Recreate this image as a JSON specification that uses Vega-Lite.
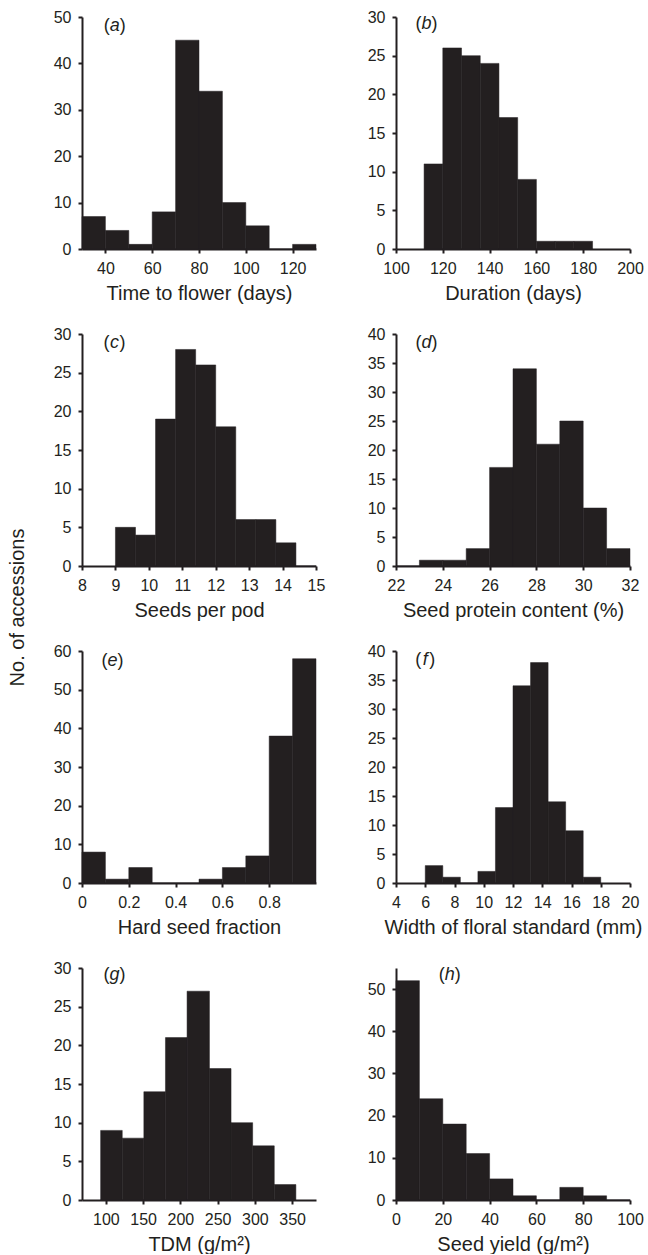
{
  "$schema": "https://vega.github.io/schema/vega-lite/v6.json",
  "padding": {"left": 8, "top": 9, "right": 0, "bottom": 0},
  "title": {"text": "No. of accessions", "orient": "left", "anchor": "middle", "frame": "bounds", "fontSize": 20, "fontWeight": "normal", "font": "Liberation Sans", "color": "#231f20", "offset": 25, "dx": 24},
  "datasets": {
    "hist": [
      {"panel": "a", "lo": 30, "hi": 40, "n": 7},
      {"panel": "a", "lo": 40, "hi": 50, "n": 4},
      {"panel": "a", "lo": 50, "hi": 60, "n": 1},
      {"panel": "a", "lo": 60, "hi": 70, "n": 8},
      {"panel": "a", "lo": 70, "hi": 80, "n": 45},
      {"panel": "a", "lo": 80, "hi": 90, "n": 34},
      {"panel": "a", "lo": 90, "hi": 100, "n": 10},
      {"panel": "a", "lo": 100, "hi": 110, "n": 5},
      {"panel": "a", "lo": 110, "hi": 120, "n": 0},
      {"panel": "a", "lo": 120, "hi": 130, "n": 1},
      {"panel": "b", "lo": 112, "hi": 120, "n": 11},
      {"panel": "b", "lo": 120, "hi": 128, "n": 26},
      {"panel": "b", "lo": 128, "hi": 136, "n": 25},
      {"panel": "b", "lo": 136, "hi": 144, "n": 24},
      {"panel": "b", "lo": 144, "hi": 152, "n": 17},
      {"panel": "b", "lo": 152, "hi": 160, "n": 9},
      {"panel": "b", "lo": 160, "hi": 168, "n": 1},
      {"panel": "b", "lo": 168, "hi": 176, "n": 1},
      {"panel": "b", "lo": 176, "hi": 184, "n": 1},
      {"panel": "c", "lo": 9.0, "hi": 9.6, "n": 5},
      {"panel": "c", "lo": 9.6, "hi": 10.2, "n": 4},
      {"panel": "c", "lo": 10.2, "hi": 10.8, "n": 19},
      {"panel": "c", "lo": 10.8, "hi": 11.4, "n": 28},
      {"panel": "c", "lo": 11.4, "hi": 12.0, "n": 26},
      {"panel": "c", "lo": 12.0, "hi": 12.6, "n": 18},
      {"panel": "c", "lo": 12.6, "hi": 13.2, "n": 6},
      {"panel": "c", "lo": 13.2, "hi": 13.8, "n": 6},
      {"panel": "c", "lo": 13.8, "hi": 14.4, "n": 3},
      {"panel": "c", "lo": 14.4, "hi": 15.0, "n": 0},
      {"panel": "d", "lo": 22, "hi": 23, "n": 0},
      {"panel": "d", "lo": 23, "hi": 24, "n": 1},
      {"panel": "d", "lo": 24, "hi": 25, "n": 1},
      {"panel": "d", "lo": 25, "hi": 26, "n": 3},
      {"panel": "d", "lo": 26, "hi": 27, "n": 17},
      {"panel": "d", "lo": 27, "hi": 28, "n": 34},
      {"panel": "d", "lo": 28, "hi": 29, "n": 21},
      {"panel": "d", "lo": 29, "hi": 30, "n": 25},
      {"panel": "d", "lo": 30, "hi": 31, "n": 10},
      {"panel": "d", "lo": 31, "hi": 32, "n": 3},
      {"panel": "e", "lo": 0.0, "hi": 0.1, "n": 8},
      {"panel": "e", "lo": 0.1, "hi": 0.2, "n": 1},
      {"panel": "e", "lo": 0.2, "hi": 0.3, "n": 4},
      {"panel": "e", "lo": 0.3, "hi": 0.4, "n": 0},
      {"panel": "e", "lo": 0.4, "hi": 0.5, "n": 0},
      {"panel": "e", "lo": 0.5, "hi": 0.6, "n": 1},
      {"panel": "e", "lo": 0.6, "hi": 0.7, "n": 4},
      {"panel": "e", "lo": 0.7, "hi": 0.8, "n": 7},
      {"panel": "e", "lo": 0.8, "hi": 0.9, "n": 38},
      {"panel": "e", "lo": 0.9, "hi": 1.0, "n": 58},
      {"panel": "f", "lo": 6.0, "hi": 7.2, "n": 3},
      {"panel": "f", "lo": 7.2, "hi": 8.4, "n": 1},
      {"panel": "f", "lo": 8.4, "hi": 9.6, "n": 0},
      {"panel": "f", "lo": 9.6, "hi": 10.8, "n": 2},
      {"panel": "f", "lo": 10.8, "hi": 12.0, "n": 13},
      {"panel": "f", "lo": 12.0, "hi": 13.2, "n": 34},
      {"panel": "f", "lo": 13.2, "hi": 14.4, "n": 38},
      {"panel": "f", "lo": 14.4, "hi": 15.6, "n": 14},
      {"panel": "f", "lo": 15.6, "hi": 16.8, "n": 9},
      {"panel": "f", "lo": 16.8, "hi": 18.0, "n": 1},
      {"panel": "g", "lo": 93, "hi": 122, "n": 9},
      {"panel": "g", "lo": 122, "hi": 151, "n": 8},
      {"panel": "g", "lo": 151, "hi": 180, "n": 14},
      {"panel": "g", "lo": 180, "hi": 209, "n": 21},
      {"panel": "g", "lo": 209, "hi": 239, "n": 27},
      {"panel": "g", "lo": 239, "hi": 268, "n": 17},
      {"panel": "g", "lo": 268, "hi": 297, "n": 10},
      {"panel": "g", "lo": 297, "hi": 326, "n": 7},
      {"panel": "g", "lo": 326, "hi": 355, "n": 2},
      {"panel": "h", "lo": 0, "hi": 10, "n": 52},
      {"panel": "h", "lo": 10, "hi": 20, "n": 24},
      {"panel": "h", "lo": 20, "hi": 30, "n": 18},
      {"panel": "h", "lo": 30, "hi": 40, "n": 11},
      {"panel": "h", "lo": 40, "hi": 50, "n": 5},
      {"panel": "h", "lo": 50, "hi": 60, "n": 1},
      {"panel": "h", "lo": 60, "hi": 70, "n": 0},
      {"panel": "h", "lo": 70, "hi": 80, "n": 3},
      {"panel": "h", "lo": 80, "hi": 90, "n": 1},
      {"panel": "h", "lo": 90, "hi": 100, "n": 0}
    ]
  },
  "columns": 2,
  "bounds": "flush",
  "spacing": {"row": 85, "column": 80},
  "concat": [
    {
      "width": 234, "height": 232,
      "resolve": {"axis": {"x": "independent", "y": "independent"}},
      "layer": [
        {"data": {"name": "hist"}, "transform": [{"filter": "datum.panel === 'a'"}],
         "mark": {"type": "bar", "color": "#231f20", "stroke": "#231f20", "strokeWidth": 0.5},
         "encoding": {
           "x": {"field": "lo", "type": "quantitative", "scale": {"domain": [30, 130], "nice": false, "zero": false}, "axis": {"title": "Time to flower (days)", "values": [40, 60, 80, 100, 120]}},
           "x2": {"field": "hi"},
           "y": {"field": "n", "type": "quantitative", "scale": {"domain": [0, 50], "nice": false}, "axis": {"title": null, "values": [0, 10, 20, 30, 40, 50]}},
           "y2": {"datum": 0}
         }},
        {"data": {"values": [{}]}, "mark": {"type": "text", "text": "(", "align": "right", "dx": -5, "baseline": "middle"}, "encoding": {"x": {"datum": 44, "axis": null}, "y": {"datum": 48, "axis": null}}},
        {"data": {"values": [{}]}, "mark": {"type": "text", "text": "a", "align": "center", "fontStyle": "italic", "baseline": "middle"}, "encoding": {"x": {"datum": 44, "axis": null}, "y": {"datum": 48, "axis": null}}},
        {"data": {"values": [{}]}, "mark": {"type": "text", "text": ")", "align": "left", "dx": 5, "baseline": "middle"}, "encoding": {"x": {"datum": 44, "axis": null}, "y": {"datum": 48, "axis": null}}}
      ]
    },
    {
      "width": 234, "height": 232,
      "resolve": {"axis": {"x": "independent", "y": "independent"}},
      "layer": [
        {"data": {"name": "hist"}, "transform": [{"filter": "datum.panel === 'b'"}],
         "mark": {"type": "bar", "color": "#231f20", "stroke": "#231f20", "strokeWidth": 0.5},
         "encoding": {
           "x": {"field": "lo", "type": "quantitative", "scale": {"domain": [100, 200], "nice": false, "zero": false}, "axis": {"title": "Duration (days)", "values": [100, 120, 140, 160, 180, 200]}},
           "x2": {"field": "hi"},
           "y": {"field": "n", "type": "quantitative", "scale": {"domain": [0, 30], "nice": false}, "axis": {"title": null, "values": [0, 5, 10, 15, 20, 25, 30]}},
           "y2": {"datum": 0}
         }},
        {"data": {"values": [{}]}, "mark": {"type": "text", "text": "(", "align": "right", "dx": -5, "baseline": "middle"}, "encoding": {"x": {"datum": 113, "axis": null}, "y": {"datum": 29.1, "axis": null}}},
        {"data": {"values": [{}]}, "mark": {"type": "text", "text": "b", "align": "center", "fontStyle": "italic", "baseline": "middle"}, "encoding": {"x": {"datum": 113, "axis": null}, "y": {"datum": 29.1, "axis": null}}},
        {"data": {"values": [{}]}, "mark": {"type": "text", "text": ")", "align": "left", "dx": 5, "baseline": "middle"}, "encoding": {"x": {"datum": 113, "axis": null}, "y": {"datum": 29.1, "axis": null}}}
      ]
    },
    {
      "width": 234, "height": 232,
      "resolve": {"axis": {"x": "independent", "y": "independent"}},
      "layer": [
        {"data": {"name": "hist"}, "transform": [{"filter": "datum.panel === 'c'"}],
         "mark": {"type": "bar", "color": "#231f20", "stroke": "#231f20", "strokeWidth": 0.5},
         "encoding": {
           "x": {"field": "lo", "type": "quantitative", "scale": {"domain": [8, 15], "nice": false, "zero": false}, "axis": {"title": "Seeds per pod", "values": [8, 9, 10, 11, 12, 13, 14, 15]}},
           "x2": {"field": "hi"},
           "y": {"field": "n", "type": "quantitative", "scale": {"domain": [0, 30], "nice": false}, "axis": {"title": null, "values": [0, 5, 10, 15, 20, 25, 30]}},
           "y2": {"datum": 0}
         }},
        {"data": {"values": [{}]}, "mark": {"type": "text", "text": "(", "align": "right", "dx": -5, "baseline": "middle"}, "encoding": {"x": {"datum": 8.97, "axis": null}, "y": {"datum": 28.8, "axis": null}}},
        {"data": {"values": [{}]}, "mark": {"type": "text", "text": "c", "align": "center", "fontStyle": "italic", "baseline": "middle"}, "encoding": {"x": {"datum": 8.97, "axis": null}, "y": {"datum": 28.8, "axis": null}}},
        {"data": {"values": [{}]}, "mark": {"type": "text", "text": ")", "align": "left", "dx": 5, "baseline": "middle"}, "encoding": {"x": {"datum": 8.97, "axis": null}, "y": {"datum": 28.8, "axis": null}}}
      ]
    },
    {
      "width": 234, "height": 232,
      "resolve": {"axis": {"x": "independent", "y": "independent"}},
      "layer": [
        {"data": {"name": "hist"}, "transform": [{"filter": "datum.panel === 'd'"}],
         "mark": {"type": "bar", "color": "#231f20", "stroke": "#231f20", "strokeWidth": 0.5},
         "encoding": {
           "x": {"field": "lo", "type": "quantitative", "scale": {"domain": [22, 32], "nice": false, "zero": false}, "axis": {"title": "Seed protein content (%)", "values": [22, 24, 26, 28, 30, 32]}},
           "x2": {"field": "hi"},
           "y": {"field": "n", "type": "quantitative", "scale": {"domain": [0, 40], "nice": false}, "axis": {"title": null, "values": [0, 5, 10, 15, 20, 25, 30, 35, 40]}},
           "y2": {"datum": 0}
         }},
        {"data": {"values": [{}]}, "mark": {"type": "text", "text": "(", "align": "right", "dx": -5, "baseline": "middle"}, "encoding": {"x": {"datum": 23.3, "axis": null}, "y": {"datum": 38.4, "axis": null}}},
        {"data": {"values": [{}]}, "mark": {"type": "text", "text": "d", "align": "center", "fontStyle": "italic", "baseline": "middle"}, "encoding": {"x": {"datum": 23.3, "axis": null}, "y": {"datum": 38.4, "axis": null}}},
        {"data": {"values": [{}]}, "mark": {"type": "text", "text": ")", "align": "left", "dx": 5, "baseline": "middle"}, "encoding": {"x": {"datum": 23.3, "axis": null}, "y": {"datum": 38.4, "axis": null}}}
      ]
    },
    {
      "width": 234, "height": 232,
      "resolve": {"axis": {"x": "independent", "y": "independent"}},
      "layer": [
        {"data": {"name": "hist"}, "transform": [{"filter": "datum.panel === 'e'"}],
         "mark": {"type": "bar", "color": "#231f20", "stroke": "#231f20", "strokeWidth": 0.5},
         "encoding": {
           "x": {"field": "lo", "type": "quantitative", "scale": {"domain": [0, 1], "nice": false, "zero": false}, "axis": {"title": "Hard seed fraction", "values": [0, 0.2, 0.4, 0.6, 0.8], "format": "~g"}},
           "x2": {"field": "hi"},
           "y": {"field": "n", "type": "quantitative", "scale": {"domain": [0, 60], "nice": false}, "axis": {"title": null, "values": [0, 10, 20, 30, 40, 50, 60]}},
           "y2": {"datum": 0}
         }},
        {"data": {"values": [{}]}, "mark": {"type": "text", "text": "(", "align": "right", "dx": -5, "baseline": "middle"}, "encoding": {"x": {"datum": 0.13, "axis": null}, "y": {"datum": 57.4, "axis": null}}},
        {"data": {"values": [{}]}, "mark": {"type": "text", "text": "e", "align": "center", "fontStyle": "italic", "baseline": "middle"}, "encoding": {"x": {"datum": 0.13, "axis": null}, "y": {"datum": 57.4, "axis": null}}},
        {"data": {"values": [{}]}, "mark": {"type": "text", "text": ")", "align": "left", "dx": 5, "baseline": "middle"}, "encoding": {"x": {"datum": 0.13, "axis": null}, "y": {"datum": 57.4, "axis": null}}}
      ]
    },
    {
      "width": 234, "height": 232,
      "resolve": {"axis": {"x": "independent", "y": "independent"}},
      "layer": [
        {"data": {"name": "hist"}, "transform": [{"filter": "datum.panel === 'f'"}],
         "mark": {"type": "bar", "color": "#231f20", "stroke": "#231f20", "strokeWidth": 0.5},
         "encoding": {
           "x": {"field": "lo", "type": "quantitative", "scale": {"domain": [4, 20], "nice": false, "zero": false}, "axis": {"title": "Width of floral standard (mm)", "values": [4, 6, 8, 10, 12, 14, 16, 18, 20]}},
           "x2": {"field": "hi"},
           "y": {"field": "n", "type": "quantitative", "scale": {"domain": [0, 40], "nice": false}, "axis": {"title": null, "values": [0, 5, 10, 15, 20, 25, 30, 35, 40]}},
           "y2": {"datum": 0}
         }},
        {"data": {"values": [{}]}, "mark": {"type": "text", "text": "(", "align": "right", "dx": -4, "baseline": "middle"}, "encoding": {"x": {"datum": 6.0, "axis": null}, "y": {"datum": 38.4, "axis": null}}},
        {"data": {"values": [{}]}, "mark": {"type": "text", "text": "f", "align": "center", "fontStyle": "italic", "baseline": "middle"}, "encoding": {"x": {"datum": 6.0, "axis": null}, "y": {"datum": 38.4, "axis": null}}},
        {"data": {"values": [{}]}, "mark": {"type": "text", "text": ")", "align": "left", "dx": 4, "baseline": "middle"}, "encoding": {"x": {"datum": 6.0, "axis": null}, "y": {"datum": 38.4, "axis": null}}}
      ]
    },
    {
      "width": 234, "height": 232,
      "resolve": {"axis": {"x": "independent", "y": "independent"}},
      "layer": [
        {"data": {"name": "hist"}, "transform": [{"filter": "datum.panel === 'g'"}],
         "mark": {"type": "bar", "color": "#231f20", "stroke": "#231f20", "strokeWidth": 0.5},
         "encoding": {
           "x": {"field": "lo", "type": "quantitative", "scale": {"domain": [68, 382], "nice": false, "zero": false}, "axis": {"title": "TDM (g/m²)", "values": [100, 150, 200, 250, 300, 350]}},
           "x2": {"field": "hi"},
           "y": {"field": "n", "type": "quantitative", "scale": {"domain": [0, 30], "nice": false}, "axis": {"title": null, "values": [0, 5, 10, 15, 20, 25, 30]}},
           "y2": {"datum": 0}
         }},
        {"data": {"values": [{}]}, "mark": {"type": "text", "text": "(", "align": "right", "dx": -5, "baseline": "middle"}, "encoding": {"x": {"datum": 111.5, "axis": null}, "y": {"datum": 29.1, "axis": null}}},
        {"data": {"values": [{}]}, "mark": {"type": "text", "text": "g", "align": "center", "fontStyle": "italic", "baseline": "middle"}, "encoding": {"x": {"datum": 111.5, "axis": null}, "y": {"datum": 29.1, "axis": null}}},
        {"data": {"values": [{}]}, "mark": {"type": "text", "text": ")", "align": "left", "dx": 5, "baseline": "middle"}, "encoding": {"x": {"datum": 111.5, "axis": null}, "y": {"datum": 29.1, "axis": null}}}
      ]
    },
    {
      "width": 234, "height": 232,
      "resolve": {"axis": {"x": "independent", "y": "independent"}},
      "layer": [
        {"data": {"name": "hist"}, "transform": [{"filter": "datum.panel === 'h'"}],
         "mark": {"type": "bar", "color": "#231f20", "stroke": "#231f20", "strokeWidth": 0.5},
         "encoding": {
           "x": {"field": "lo", "type": "quantitative", "scale": {"domain": [0, 100], "nice": false, "zero": false}, "axis": {"title": "Seed yield (g/m²)", "values": [0, 20, 40, 60, 80, 100]}},
           "x2": {"field": "hi"},
           "y": {"field": "n", "type": "quantitative", "scale": {"domain": [0, 55], "nice": false}, "axis": {"title": null, "values": [0, 10, 20, 30, 40, 50]}},
           "y2": {"datum": 0}
         }},
        {"data": {"values": [{}]}, "mark": {"type": "text", "text": "(", "align": "right", "dx": -5, "baseline": "middle"}, "encoding": {"x": {"datum": 23, "axis": null}, "y": {"datum": 53.3, "axis": null}}},
        {"data": {"values": [{}]}, "mark": {"type": "text", "text": "h", "align": "center", "fontStyle": "italic", "baseline": "middle"}, "encoding": {"x": {"datum": 23, "axis": null}, "y": {"datum": 53.3, "axis": null}}},
        {"data": {"values": [{}]}, "mark": {"type": "text", "text": ")", "align": "left", "dx": 5, "baseline": "middle"}, "encoding": {"x": {"datum": 23, "axis": null}, "y": {"datum": 53.3, "axis": null}}}
      ]
    }
  ],
  "config": {
    "view": {"stroke": null},
    "axis": {
      "grid": false,
      "domainColor": "#231f20", "domainWidth": 2,
      "tickColor": "#231f20", "tickWidth": 2, "tickSize": 4,
      "labelFont": "Liberation Sans", "labelFontSize": 16, "labelColor": "#231f20",
      "labelPadding": 7, "labelFlush": false, "labelOverlap": false,
      "titleFont": "Liberation Sans", "titleFontSize": 20, "titleFontWeight": "normal", "titleColor": "#231f20",
      "titlePadding": 7
    },
    "text": {"font": "Liberation Sans", "fontSize": 18, "color": "#231f20"}
  }
}
